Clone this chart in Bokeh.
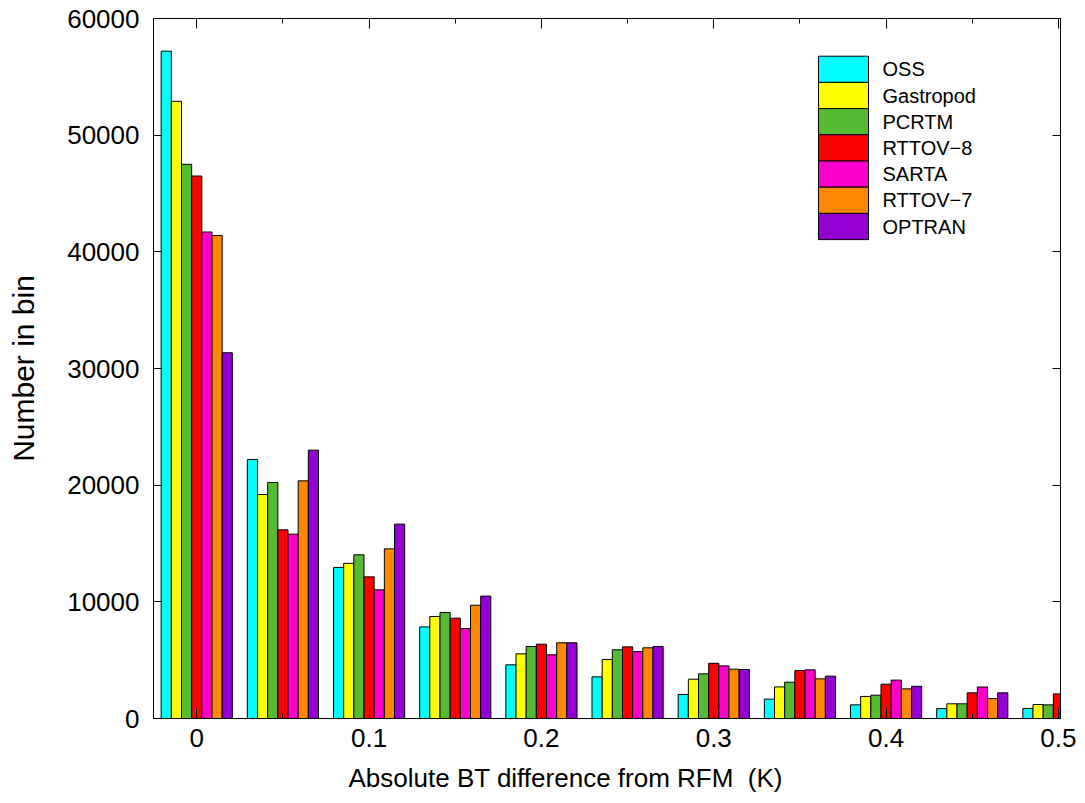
from bokeh.plotting import figure
from bokeh.models import Range1d, FixedTicker, LinearAxis, Title
from bokeh.core.properties import value
from bokeh.embed import file_html
from bokeh.resources import INLINE

NaN = float("nan")

bins = [0.0, 0.05, 0.10, 0.15, 0.20, 0.25, 0.30, 0.35, 0.40, 0.45, 0.50]
series_names = ["OSS", "Gastropod", "PCRTM", "RTTOV\u22128", "SARTA", "RTTOV\u22127", "OPTRAN"]
series_colors = ["#00FFFF", "#FFFF00", "#55BB33", "#FF0000", "#FF00CC", "#FF8800", "#9400D3"]

oss       = [57200, 22200, 12950, 7850, 4600, 3570, 2060, 1660, 1170, 850, 860]
gastropod = [52900, 19200, 13300, 8740, 5540, 5060, 3370, 2710, 1890, 1260, 1200]
pcrtm     = [47500, 20230, 14030, 9090, 6170, 5890, 3830, 3110, 2000, 1260, 1170]
rttov8    = [46500, 16170, 12140, 8600, 6370, 6140, 4730, 4110, 2940, 2200, 2110]
sarta     = [41700, 15800, 11030, 7710, 5460, 5740, 4510, 4170, 3290, 2700, NaN]
rttov7    = [41400, 20370, 14540, 9710, 6490, 6060, 4230, 3400, 2540, 1710, NaN]
optran    = [31350, 23000, 16660, 10490, 6490, 6170, 4200, 3630, 2760, 2200, NaN]

series_values = [oss, gastropod, pcrtm, rttov8, sarta, rttov7, optran]

x_ticks = [0.0, 0.1, 0.2, 0.3, 0.4, 0.5]
x_tick_labels = ["0", "0.1", "0.2", "0.3", "0.4", "0.5"]
x_minor_ticks = [0.05, 0.15, 0.25, 0.35, 0.45]
y_ticks = [0, 10000, 20000, 30000, 40000, 50000, 60000]
x_title = "Absolute BT difference from RFM \u00a0(K)"
y_title = "Number in bin"

FONT = "Liberation Sans"
bar_w = 0.0059

p = figure(width=1085, height=803, output_backend="svg", toolbar_location=None,
           x_range=Range1d(-0.0251, 0.5012), y_range=Range1d(0, 60000),
           min_border_left=153, min_border_right=25, min_border_top=18, min_border_bottom=85)
p.grid.visible = False
p.outline_line_color = "black"
p.outline_line_width = 1
p.background_fill_color = "white"
p.border_fill_color = "white"

# pixel-like helper ranges for legend placement
p.extra_x_ranges = {"px": Range1d(153, 1060)}
p.extra_y_ranges = {"py": Range1d(718, 18)}

n = len(series_names)
for i, (name, col, vals) in enumerate(zip(series_names, series_colors, series_values)):
    xs = [b + (i - (n - 1) / 2) * bar_w for b in bins]
    p.vbar(x=xs, top=vals, bottom=0, width=bar_w, fill_color=col,
           line_color="black", line_width=1)

# bottom axis
xa = p.xaxis[0]
xa.ticker = FixedTicker(ticks=x_ticks, minor_ticks=x_minor_ticks)
xa.major_label_overrides = {t: l for t, l in zip(x_ticks, x_tick_labels)}
xa.major_tick_in = 10
xa.major_tick_out = 0
xa.minor_tick_in = 5
xa.minor_tick_out = 0
xa.major_label_text_font = FONT
xa.major_label_text_font_size = "26px"
xa.major_label_text_color = "black"
xa.major_label_standoff = 10
xa.axis_line_color = "black"

# left axis
ya = p.yaxis[0]
ya.ticker = FixedTicker(ticks=y_ticks)
ya.major_tick_in = 8
ya.major_tick_out = 0
ya.minor_tick_line_color = None
ya.major_label_text_font = FONT
ya.major_label_text_font_size = "26px"
ya.major_label_text_color = "black"
ya.major_label_standoff = 14
ya.axis_label = y_title
ya.axis_label_text_font = FONT
ya.axis_label_text_font_size = "30px"
ya.axis_label_text_font_style = "normal"
ya.axis_label_text_color = "black"
ya.axis_label_standoff = 24
ya.axis_line_color = "black"

# mirrored ticks on top and right (no labels)
top = LinearAxis(ticker=FixedTicker(ticks=x_ticks, minor_ticks=x_minor_ticks),
                 major_tick_in=10, major_tick_out=0, minor_tick_in=5, minor_tick_out=0,
                 major_label_text_color=None, major_label_text_font_size="1px",
                 major_label_standoff=0)
p.add_layout(top, "above")
right = LinearAxis(ticker=FixedTicker(ticks=y_ticks),
                   major_tick_in=8, major_tick_out=0, minor_tick_line_color=None,
                   major_label_text_color=None, major_label_text_font_size="1px",
                   major_label_standoff=0)
p.add_layout(right, "right")

# x axis title (offset left as in the original)
p.add_layout(Title(text=x_title, align="left", offset=195, text_font=FONT,
                   text_font_size="26px", text_font_style="normal", text_color="black",
                   standoff=22), "below")

# legend: contiguous colour boxes with labels
box_top0 = 55.7
box_h = 26.2
tops = [box_top0 + k * box_h for k in range(n)]
bots = [t + box_h for t in tops]
mids = [t + box_h / 2 for t in tops]
p.quad(left=[818] * n, right=[868] * n, top=tops, bottom=bots, fill_color=series_colors,
       line_color="black", line_width=1, x_range_name="px", y_range_name="py")
p.text(x=[882] * n, y=mids, text=series_names, text_font=value(FONT), text_font_size="20px",
       text_baseline="middle", text_align="left", text_color="black",
       x_range_name="px", y_range_name="py")

open("out.html", "w").write(file_html(p, INLINE))
